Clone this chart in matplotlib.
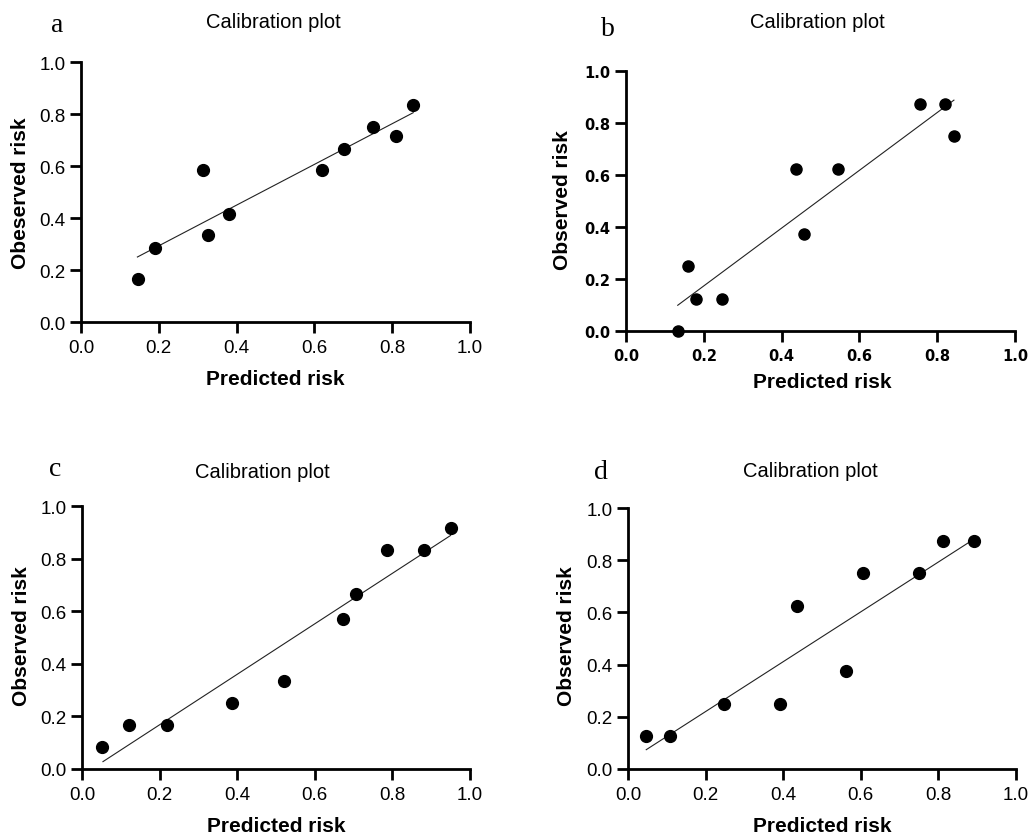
import numpy as np
import matplotlib
matplotlib.use("Agg")
import matplotlib.pyplot as plt

# predicted vs observed risk for the four models
pred_a = [0.147, 0.190, 0.314, 0.326, 0.380, 0.620, 0.675, 0.751, 0.810, 0.853]
obs_a = [0.167, 0.285, 0.583, 0.333, 0.417, 0.583, 0.667, 0.750, 0.714, 0.833]
fit_a_x = [0.145, 0.854]
fit_a_y = [0.250, 0.805]

pred_b = [0.133, 0.160, 0.181, 0.247, 0.438, 0.458, 0.544, 0.756, 0.821, 0.844]
obs_b = [0.000, 0.250, 0.125, 0.125, 0.625, 0.375, 0.625, 0.875, 0.875, 0.750]
fit_b_x = [0.133, 0.843]
fit_b_y = [0.099, 0.888]

pred_c = [0.052, 0.122, 0.219, 0.386, 0.520, 0.672, 0.706, 0.785, 0.882, 0.952]
obs_c = [0.083, 0.167, 0.167, 0.250, 0.333, 0.571, 0.667, 0.833, 0.833, 0.917]
fit_c_x = [0.054, 0.950]
fit_c_y = [0.028, 0.888]

pred_d = [0.047, 0.107, 0.247, 0.393, 0.435, 0.562, 0.605, 0.751, 0.812, 0.891]
obs_d = [0.125, 0.125, 0.250, 0.250, 0.625, 0.375, 0.750, 0.750, 0.875, 0.875]
fit_d_x = [0.047, 0.891]
fit_d_y = [0.074, 0.880]

ticks = [0.0, 0.2, 0.4, 0.6, 0.8, 1.0]
tick_labels = ["0.0", "0.2", "0.4", "0.6", "0.8", "1.0"]

W, H = 1028, 837
fig = plt.figure(figsize=(W / 100, H / 100), dpi=100)
plt.rcParams['font.family'] = ['Liberation Sans', 'DejaVu Sans']


def px(x, y):
    return x / W, 1 - y / H


panels = [
    # data, axes box in px (left, top, right, bottom), letter, letter pos, title pos, ylabel pos, xlabel pos, ylabel text
    (pred_a, obs_a, fit_a_x, fit_a_y, (81, 63, 470, 323), "a", (57, 26), (273, 23), (21, 193), (275, 380), "Obeserved risk"),
    (pred_b, obs_b, fit_b_x, fit_b_y, (626, 72, 1015, 332), "b", (608, 30), (817, 22), (562, 200), (822, 383), "Observed risk"),
    (pred_c, obs_c, fit_c_x, fit_c_y, (82, 507, 470, 770), "c", (55, 470), (262, 473), (22, 636), (276, 827), "Observed risk"),
    (pred_d, obs_d, fit_d_x, fit_d_y, (628, 509, 1016, 770), "d", (601, 473), (810, 472), (566, 636), (822, 827), "Observed risk"),
]

for i, (x, y, fx, fy, box, letter, lpos, tpos, ypos, xpos, ylab) in enumerate(panels):
    l, t, r, b = box
    ax = fig.add_axes([l / W, 1 - b / H, (r - l) / W, (b - t) / H])
    ax.plot(fx, fy, color="#222222", lw=0.8)
    ax.plot(x, y, "o", color="black", ms=8.5 if i != 1 else 8, clip_on=False)
    ax.set_xlim(0, 1)
    ax.set_ylim(0, 1)
    ax.set_xticks(ticks)
    ax.set_yticks(ticks)
    if i == 1:
        ax.set_xticklabels(tick_labels, family="DejaVu Sans", fontsize=10.5, weight="bold")
        ax.set_yticklabels(tick_labels, family="DejaVu Sans", fontsize=10.5, weight="bold")
    else:
        ax.set_xticklabels(tick_labels, fontsize=13.5)
        ax.set_yticklabels(tick_labels, fontsize=13.5)
    for s in ["top", "right"]:
        ax.spines[s].set_visible(False)
    for s in ["left", "bottom"]:
        ax.spines[s].set_linewidth(2)
    ax.tick_params(direction="out", length=8, width=2, pad=3)
    ax.tick_params(axis="x", pad=4)

    fig.text(*px(*lpos), letter, family="Liberation Serif", fontsize=20, ha="center", va="center")
    fig.text(*px(*tpos), "Calibration plot", fontsize=14.5, ha="center", va="center")
    fig.text(*px(*ypos), ylab, fontsize=15, weight="bold", rotation=90, ha="center", va="center")
    fig.text(*px(*xpos), "Predicted risk", fontsize=15, weight="bold", ha="center", va="center")

fig.savefig("out.png", dpi=100)
